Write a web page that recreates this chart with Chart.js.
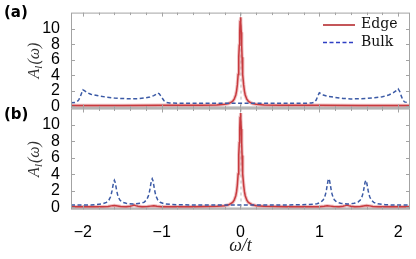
<!DOCTYPE html>
<html>
<head>
<meta charset="utf-8">
<script src="https://cdn.jsdelivr.net/npm/chart.js@4.4.0/dist/chart.umd.min.js"></script>
<style>
  html, body { margin: 0; padding: 0; background: #fff; }
  #wrap { position: relative; width: 416px; height: 259px; }
  canvas { position: absolute; left: 0; top: 0; }
</style>
</head>
<body>
<div id="wrap">
  <canvas id="panelA" width="416" height="259"></canvas>
  <canvas id="panelB" width="416" height="259"></canvas>
</div>
<script>
const xTicks = [-2, -1, 0, 1, 2];
const yTicks = [0, 2, 4, 6, 8, 10];
const seriesNames = ['Edge', 'Bulk'];

// panel (a)
const edgeAX = [-2.15, -1.5, -1.0, -0.5, -0.3, -0.2, -0.15, -0.1, -0.08, -0.06, -0.05, -0.04, -0.03, -0.025, -0.02, -0.015, -0.01, -0.005,
  0, 0.005, 0.01, 0.015, 0.02, 0.025, 0.03, 0.04, 0.05, 0.06, 0.08, 0.1, 0.15, 0.2, 0.3, 0.5, 1.0, 1.5, 2.15];
const edgeAY = [0.1, 0.1, 0.11, 0.12, 0.16, 0.24, 0.34, 0.63, 0.9, 1.45, 1.95, 2.75, 4.09, 5.08, 6.34, 7.88, 9.55, 10.94,
  11.5, 10.94, 9.55, 7.88, 6.34, 5.08, 4.09, 2.75, 1.95, 1.45, 0.9, 0.63, 0.34, 0.24, 0.16, 0.12, 0.11, 0.1, 0.1];
const bulkAX = [-2.15, -2.1, -2.07, -2.05, -2.03, -2.01, -2.0, -1.98, -1.95, -1.9, -1.8, -1.7, -1.6, -1.5, -1.4, -1.3, -1.2, -1.15,
  -1.1, -1.07, -1.05, -1.03, -1.0, -0.97, -0.94, -0.9, -0.8, -0.5, 0,
  0.5, 0.8, 0.9, 0.93, 0.96, 0.98, 1.0, 1.02, 1.05, 1.1, 1.18, 1.3, 1.4, 1.5, 1.6, 1.7, 1.8, 1.88, 1.94, 1.98, 2.0,
  2.02, 2.04, 2.06, 2.08, 2.12, 2.15];
const bulkAY = [0.45, 0.48, 0.6, 0.85, 1.3, 1.85, 2.12, 2.0, 1.78, 1.55, 1.33, 1.17, 1.06, 0.99, 0.95, 0.97, 1.07, 1.18,
  1.36, 1.55, 1.7, 1.6, 1.15, 0.7, 0.48, 0.41, 0.38, 0.37, 0.37,
  0.37, 0.38, 0.41, 0.48, 0.8, 1.3, 1.73, 1.62, 1.45, 1.3, 1.17, 1.0, 0.94, 0.96, 1.0, 1.08, 1.22, 1.45, 1.75, 2.05, 2.24,
  1.9, 1.3, 0.8, 0.55, 0.47, 0.45];

// panel (b)
const edgeBX = [-2.15, -1.75, -1.68, -1.64, -1.6, -1.56, -1.52, -1.45, -1.4, -1.37, -1.35, -1.33, -1.3, -1.25, -1.18, -1.14, -1.1, -1.06, -1.0, -0.6,
  -0.3, -0.2, -0.15, -0.1, -0.08, -0.06, -0.05, -0.04, -0.03, -0.025, -0.02, -0.015, -0.01, -0.005,
  0, 0.005, 0.01, 0.015, 0.02, 0.025, 0.03, 0.04, 0.05, 0.06, 0.08, 0.1, 0.15, 0.2, 0.3,
  0.6, 1.0, 1.06, 1.1, 1.14, 1.18, 1.25, 1.3, 1.33, 1.35, 1.37, 1.4, 1.45, 1.52, 1.56, 1.6, 1.64, 1.68, 1.75, 2.15];
const edgeBY = [0.05, 0.06, 0.1, 0.17, 0.22, 0.16, 0.09, 0.07, 0.12, 0.2, 0.26, 0.2, 0.12, 0.07, 0.09, 0.14, 0.18, 0.12, 0.07, 0.07,
  0.12, 0.19, 0.3, 0.58, 0.86, 1.4, 1.9, 2.7, 4.05, 5.04, 6.3, 7.84, 9.5, 10.9,
  11.45, 10.9, 9.5, 7.84, 6.3, 5.04, 4.05, 2.7, 1.9, 1.4, 0.86, 0.58, 0.3, 0.19, 0.12,
  0.07, 0.07, 0.12, 0.18, 0.14, 0.09, 0.07, 0.12, 0.2, 0.26, 0.2, 0.12, 0.07, 0.09, 0.16, 0.22, 0.17, 0.1, 0.06, 0.05];
const bulkBX = [-2.15, -1.9, -1.85, -1.75, -1.7, -1.67, -1.65, -1.64, -1.63, -1.62, -1.61, -1.6, -1.59, -1.58, -1.57, -1.56, -1.55, -1.53, -1.5, -1.45,
  -1.36, -1.27, -1.22, -1.19, -1.17, -1.16, -1.15, -1.14, -1.13, -1.12, -1.11, -1.1, -1.09, -1.08, -1.07, -1.05, -1.02, -0.97, -0.87, -0.6,
  0, 0.6, 0.87, 0.97, 1.02, 1.05, 1.07, 1.08, 1.09, 1.1, 1.11, 1.12, 1.13, 1.14, 1.15, 1.16, 1.17, 1.19, 1.22, 1.27,
  1.36, 1.44, 1.49, 1.52, 1.54, 1.55, 1.56, 1.57, 1.58, 1.59, 1.6, 1.61, 1.62, 1.63, 1.64, 1.66, 1.69, 1.74, 1.84, 1.9, 2.15];
const bulkBY = [0.27, 0.29, 0.32, 0.42, 0.59, 0.86, 1.25, 1.56, 1.99, 2.52, 3.03, 3.27, 3.03, 2.53, 2.0, 1.57, 1.26, 0.88, 0.62, 0.48,
  0.39, 0.48, 0.63, 0.92, 1.33, 1.67, 2.12, 2.69, 3.23, 3.47, 3.23, 2.68, 2.11, 1.66, 1.32, 0.91, 0.61, 0.43, 0.33, 0.28,
  0.27, 0.28, 0.33, 0.43, 0.61, 0.91, 1.32, 1.66, 2.11, 2.68, 3.23, 3.47, 3.23, 2.69, 2.12, 1.67, 1.33, 0.92, 0.63, 0.48,
  0.39, 0.48, 0.62, 0.88, 1.26, 1.57, 2.0, 2.53, 3.03, 3.27, 3.03, 2.52, 1.99, 1.56, 1.25, 0.86, 0.59, 0.42, 0.32, 0.29, 0.27];

const edgeColor = '#c83a3e';
const edgeHalo = 'rgba(222, 120, 124, 0.45)';
const bulkColor = '#3b5aa6';
const frameColor = '#a3a3a3';

const toPoints = (xs, ys) => xs.map((x, i) => ({ x: x, y: ys[i] }));
const fmt = v => (v < 0 ? '\u2212' + Math.abs(v) : String(v));

function drawYTitle(ctx, cx, cy) {
  const big = 'italic 16px "Liberation Serif"';
  const small = 'italic 11px "Liberation Serif"';
  ctx.save();
  ctx.translate(cx, cy);
  ctx.rotate(-Math.PI / 2);
  ctx.fillStyle = '#333';
  ctx.textBaseline = 'middle';
  ctx.font = big;
  const wA = ctx.measureText('A').width;
  const wR = ctx.measureText('(\u03c9)').width;
  ctx.font = small;
  const wl = ctx.measureText('l').width + 1;
  let x = -(wA + wl + wR) / 2;
  ctx.font = big;
  ctx.fillText('A', x, 0);
  x += wA;
  ctx.font = small;
  ctx.fillText('l', x, 4);
  x += wl;
  ctx.font = big;
  ctx.fillText('(\u03c9)', x, 0);
  ctx.restore();
}

const deco = {
  id: 'deco',
  beforeDatasetsDraw(chart, args, opts) {
    const { ctx, chartArea: a, scales: { x, y } } = chart;
    const y0 = y.getPixelForValue(0);
    const x0 = x.getPixelForValue(0);
    ctx.save();
    ctx.fillStyle = '#cbcbcb';
    ctx.fillRect(a.left, y0, a.right - a.left, a.bottom - y0);
    ctx.strokeStyle = '#b8b8b8';
    ctx.lineWidth = 1;
    ctx.setLineDash([3, 3]);
    ctx.beginPath();
    ctx.moveTo(x0 + 0.5, a.top);
    ctx.lineTo(x0 + 0.5, a.bottom);
    ctx.stroke();
    ctx.restore();
  },
  afterDatasetsDraw(chart, args, opts) {
    const { ctx, chartArea: a, scales: { x, y } } = chart;
    ctx.save();
    ctx.strokeStyle = frameColor;
    ctx.lineWidth = 1;
    ctx.strokeRect(a.left + 0.5, a.top + 0.5, a.right - a.left - 1, a.bottom - a.top - 1);
    ctx.beginPath();
    for (let v = -2.2; v <= 2.21; v += 0.2) {
      const px = Math.round(x.getPixelForValue(v)) + 0.5;
      if (px <= a.left + 1 || px >= a.right - 1) continue;
      const major = xTicks.some(t => Math.abs(t - v) < 1e-6);
      const len = major ? 4 : 2.5;
      ctx.moveTo(px, a.top);
      ctx.lineTo(px, a.top + len);
      ctx.moveTo(px, a.bottom);
      ctx.lineTo(px, a.bottom - len);
    }
    yTicks.forEach(t => {
      const py = Math.round(y.getPixelForValue(t)) + 0.5;
      ctx.moveTo(a.left, py);
      ctx.lineTo(a.left + 4, py);
      ctx.moveTo(a.right, py);
      ctx.lineTo(a.right - 4, py);
    });
    ctx.stroke();
    ctx.restore();
  },
  afterDraw(chart, args, opts) {
    const { ctx, chartArea: a } = chart;
    ctx.save();
    ctx.fillStyle = '#000';
    ctx.font = 'bold 15px "DejaVu Sans"';
    ctx.textBaseline = 'middle';
    ctx.textAlign = 'left';
    ctx.fillText(opts.tag, 4, opts.tagY);
    ctx.restore();
    drawYTitle(ctx, 35, (a.top + a.bottom) / 2 + opts.titleShift);
    if (opts.legend) {
      ctx.save();
      ctx.lineWidth = 1.5;
      ctx.strokeStyle = '#b01e22';
      ctx.beginPath();
      ctx.moveTo(323, 25);
      ctx.lineTo(355, 25);
      ctx.stroke();
      ctx.strokeStyle = '#2f3fc4';
      ctx.setLineDash([4, 2.5]);
      ctx.beginPath();
      ctx.moveTo(323, 42.5);
      ctx.lineTo(355, 42.5);
      ctx.stroke();
      ctx.setLineDash([]);
      ctx.fillStyle = '#111';
      ctx.font = '14px "DejaVu Serif"';
      ctx.textBaseline = 'middle';
      ctx.fillText(seriesNames[0], 361, 24);
      ctx.fillText(seriesNames[1], 361, 42);
      ctx.restore();
    }
    if (opts.xTitle) {
      ctx.save();
      ctx.fillStyle = '#222';
      ctx.font = 'italic 18px "Liberation Serif"';
      ctx.textAlign = 'center';
      ctx.textBaseline = 'middle';
      ctx.fillText('\u03c9/t', chart.scales.x.getPixelForValue(0), 246);
      ctx.restore();
    }
  }
};

function makeChart(id, edgeX, edgeY, bulkX, bulkY, yMin, yMax, padTop, padBottom, showX, deco0) {
  const edgePts = toPoints(edgeX, edgeY);
  return new Chart(document.getElementById(id), {
    type: 'line',
    data: {
      datasets: [
        { label: seriesNames[1], data: toPoints(bulkX, bulkY), borderColor: bulkColor, borderWidth: 1.5,
          borderDash: [4, 2.5], pointRadius: 0, tension: 0 },
        { label: seriesNames[0], data: edgePts, borderColor: edgeColor, borderWidth: 1.5,
          pointRadius: 0, tension: 0 },
        { label: 'halo', data: edgePts, borderColor: edgeHalo, borderWidth: 3.5,
          pointRadius: 0, tension: 0 }
      ]
    },
    options: {
      responsive: false,
      animation: false,
      devicePixelRatio: 1,
      layout: { padding: { left: 0, right: 6, top: padTop, bottom: padBottom } },
      plugins: { legend: { display: false }, tooltip: { enabled: false }, deco: deco0 },
      scales: {
        x: {
          type: 'linear', min: -2.15, max: 2.15, display: showX,
          grid: { display: false }, border: { display: false },
          afterBuildTicks: s => { s.ticks = xTicks.map(v => ({ value: v })); },
          afterFit: s => { s.height = showX ? 30 : 0; },
          ticks: { font: { family: 'Liberation Sans', size: 16 }, color: '#000', padding: 5, maxRotation: 0,
            autoSkip: false, callback: v => fmt(v) }
        },
        y: {
          min: yMin, max: yMax,
          grid: { display: false }, border: { display: false },
          afterBuildTicks: s => { s.ticks = yTicks.map(v => ({ value: v })); },
          afterFit: s => { s.width = 71; },
          ticks: { font: { family: 'Liberation Sans', size: 16 }, color: '#000', padding: 3,
            autoSkip: false, callback: v => fmt(v) }
        }
      }
    },
    plugins: [deco]
  });
}

makeChart('panelA', edgeAX, edgeAY, bulkAX, bulkAY, -0.3, 12.1, 4.5, 150.5, false,
  { tag: '(a)', tagY: 13, titleShift: 0, legend: true, xTitle: false });
makeChart('panelB', edgeBX, edgeBY, bulkBX, bulkBY, -0.27, 12.0, 108.5, 19.5, true,
  { tag: '(b)', tagY: 115, titleShift: 0, legend: false, xTitle: true });
</script>
